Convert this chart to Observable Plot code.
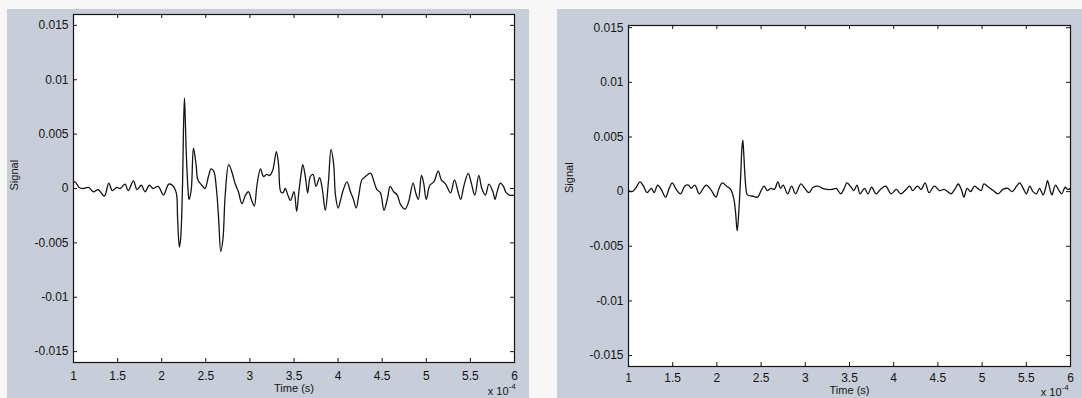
<!DOCTYPE html>
<html><head><meta charset="utf-8">
<script src="https://cdn.jsdelivr.net/npm/d3@7"></script>
<script src="https://cdn.jsdelivr.net/npm/@observablehq/plot@0.6"></script>
<style>
html,body{margin:0;padding:0;background:#f6f6f6;}
#wrap{position:relative;width:1082px;height:398px;overflow:hidden;background:#f6f6f6;}
#wrap svg{position:absolute;display:block;}
</style></head><body><div id="wrap"></div>
<script>
// ---- data (time in units of 1e-4 s) ----
const timeLeft = [1.00,1.02,1.064,1.11,1.17,1.226,1.28,1.35,1.40,1.44,1.49,1.53,1.585,1.62,1.68,1.72,1.77,1.81,1.86,1.90,1.96,2.02,2.08,2.12,2.165,2.18,2.20,2.215,2.236,2.247,2.258,2.268,2.278,2.30,2.31,2.335,2.36,2.39,2.41,2.455,2.49,2.53,2.56,2.59,2.62,2.645,2.67,2.695,2.72,2.76,2.80,2.83,2.87,2.91,2.95,2.985,3.02,3.05,3.08,3.12,3.155,3.19,3.225,3.26,3.30,3.325,3.35,3.375,3.40,3.43,3.46,3.50,3.53,3.555,3.58,3.60,3.63,3.655,3.685,3.715,3.75,3.79,3.82,3.855,3.89,3.92,3.95,3.97,4.00,4.03,4.06,4.10,4.14,4.17,4.205,4.235,4.27,4.31,4.37,4.40,4.44,4.48,4.52,4.56,4.59,4.63,4.67,4.71,4.76,4.80,4.85,4.88,4.91,4.945,4.97,5.00,5.04,5.085,5.135,5.17,5.22,5.275,5.32,5.36,5.39,5.425,5.475,5.51,5.55,5.595,5.63,5.67,5.71,5.755,5.78,5.80,5.84,5.875,5.90,5.94,6.00];
const signalLeft = [0.0006,0.0006,0.0001,0.0,0.0001,-0.0003,-0.0001,-0.0007,0.0005,-0.0002,0.0001,0.0,0.0004,-0.0002,0.0007,-0.0001,0.0003,-0.0003,0.0003,0.0,0.0002,-0.0006,0.0004,0.0003,-0.0004,-0.0027,-0.0054,-0.0046,0.0003,0.0055,0.0083,0.0062,0.0034,-0.0003,-0.0010,-0.0001,0.0037,0.0022,0.0008,0.0003,0.0,0.0011,0.0018,0.0016,0.0,-0.0027,-0.0058,-0.0046,-0.0006,0.0022,0.0014,0.0005,-0.0003,-0.0014,-0.0006,-0.0003,-0.0011,-0.0016,0.0003,0.0018,0.0011,0.0013,0.0012,0.0017,0.0034,0.0022,-0.0003,-0.0004,0.0,-0.0006,-0.0011,-0.0003,-0.0021,-0.0003,0.0013,0.0022,0.0010,-0.0004,0.0011,0.0013,0.0002,0.0010,0.0,-0.0020,0.0006,0.0036,0.0022,-0.0006,-0.0018,-0.0010,-0.0001,0.0006,-0.0003,-0.0009,-0.0018,-0.0006,0.0008,0.0011,0.0014,0.0008,-0.0001,-0.0004,-0.0020,-0.0009,0.0002,-0.0003,-0.0006,-0.0015,-0.0019,-0.0012,0.0005,-0.0004,-0.0010,0.0012,0.0005,-0.0010,0.0003,0.0006,0.0016,0.0008,0.0004,-0.0004,0.0008,-0.0003,-0.0010,0.0002,0.0014,0.0005,-0.0006,0.0012,0.0,-0.0006,0.0004,-0.0003,-0.0010,-0.0004,0.0005,0.0002,-0.0003,-0.0006,-0.0006];

const timeRight = [1.00,1.04,1.08,1.13,1.17,1.21,1.26,1.29,1.33,1.37,1.42,1.46,1.495,1.54,1.59,1.635,1.68,1.71,1.75,1.80,1.845,1.88,1.93,1.99,2.02,2.06,2.11,2.155,2.19,2.21,2.23,2.25,2.27,2.283,2.293,2.303,2.315,2.33,2.345,2.40,2.46,2.50,2.535,2.57,2.61,2.65,2.69,2.72,2.75,2.80,2.845,2.89,2.95,2.995,3.04,3.09,3.145,3.195,3.25,3.30,3.35,3.40,3.44,3.47,3.51,3.55,3.585,3.62,3.67,3.71,3.75,3.80,3.85,3.91,3.97,4.03,4.08,4.14,4.18,4.215,4.27,4.31,4.355,4.40,4.46,4.52,4.57,4.61,4.65,4.69,4.73,4.765,4.795,4.83,4.87,4.915,4.95,4.99,5.02,5.075,5.125,5.18,5.235,5.29,5.34,5.39,5.425,5.465,5.50,5.54,5.575,5.615,5.65,5.69,5.72,5.74,5.765,5.79,5.83,5.87,5.90,5.94,5.97,6.00];
const signalRight = [0.0001,0.0,0.0003,0.0009,0.0005,-0.0001,0.0003,-0.0001,0.0006,0.0002,-0.0005,0.0003,0.0008,0.0002,-0.0002,0.0005,0.0006,0.0003,0.0006,-0.0002,0.0003,0.0006,0.0002,-0.0005,0.0002,0.0008,0.0005,0.0002,-0.0006,-0.0018,-0.0036,-0.0015,0.0016,0.0040,0.0047,0.0036,0.0018,0.0002,-0.0003,-0.0004,-0.0005,0.0001,0.0005,0.0001,0.0003,0.0002,0.0009,0.0003,0.0006,-0.0002,0.0005,-0.0002,0.0007,0.0003,-0.0001,0.0004,0.0005,0.0003,0.0002,0.0002,0.0003,-0.0002,0.0003,0.0008,0.0005,0.0001,0.0006,-0.0002,0.0003,-0.0002,0.0004,-0.0002,0.0002,0.0005,-0.0002,0.0002,-0.0002,0.0002,0.0005,0.0001,0.0005,0.0002,0.0008,-0.0001,0.0005,0.0001,0.0002,0.0,-0.0002,0.0002,0.0007,0.0002,-0.0005,0.0003,0.0,0.0005,0.0003,0.0001,0.0007,0.0004,0.0001,-0.0002,0.0002,0.0003,0.0,0.0005,0.0008,0.0003,-0.0002,0.0005,0.0,-0.0002,0.0003,-0.0003,0.0004,0.0010,0.0003,-0.0003,0.0006,0.0001,-0.0002,0.0004,0.0002,0.0003];

const xTicks = [1,1.5,2,2.5,3,3.5,4,4.5,5,5.5,6];
const xTickLabels = ["1","1.5","2","2.5","3","3.5","4","4.5","5","5.5","6"];
const yTicks = [-0.015,-0.01,-0.005,0,0.005,0.01,0.015];
const yTickLabels = ["-0.015","-0.01","-0.005","0","0.005","0.01","0.015"];
const yLabel = "Signal";
const xLabel = "Time (s)";
const xMultiplier = "x 10";
const xExponent = "-4";

const FONT = "'Liberation Sans', Arial, Helvetica, sans-serif";

function panel(times, values, o) {
  const data = times.map((t, i) => ({t, v: values[i]}));
  const innerH = o.height - o.mt - o.mb;
  const innerW = o.width - o.ml - o.mr;
  const fx = d => xTickLabels[xTicks.indexOf(d)];
  const fy = d => yTickLabels[yTicks.indexOf(d)];
  const ink = "#141414";
  const svg = Plot.plot({
    width: o.width, height: o.height,
    marginLeft: o.ml, marginRight: o.mr, marginTop: o.mt, marginBottom: o.mb,
    style: {background: "#c7ced9", fontFamily: FONT, fontSize: "12px", color: ink, overflow: "visible"},
    x: {domain: [1, 6]},
    y: {domain: o.yDomain},
    marks: [
      Plot.frame({fill: "white", stroke: "none"}),
      Plot.line(data, {x: "t", y: "v", stroke: ink, strokeWidth: 1.3, curve: "catmull-rom"}),
      Plot.tickX(xTicks, {x: d => d, insetTop: innerH - 4, stroke: ink}),
      Plot.tickX(xTicks, {x: d => d, insetBottom: innerH - 4, stroke: ink}),
      Plot.tickY(yTicks, {y: d => d, insetRight: innerW - 4, stroke: ink}),
      Plot.tickY(yTicks, {y: d => d, insetLeft: innerW - 4, stroke: ink}),
      Plot.axisX(xTicks, {tickSize: 0, tickPadding: o.xPad, tickFormat: fx, label: null, fill: ink}),
      Plot.axisY(yTicks, {tickSize: 0, tickPadding: 5, tickFormat: fy, label: null, fill: ink}),
      Plot.frame({stroke: ink, strokeWidth: 1.2}),
      Plot.text([yLabel], {frameAnchor: "left", rotate: -90, dx: -59, dy: o.ylDy, fontSize: 11, fill: ink}),
      Plot.text([xLabel], {frameAnchor: "bottom", lineAnchor: "middle", dy: o.xlDy, fontSize: 11, fill: ink}),
      Plot.text([xMultiplier], {frameAnchor: "bottom-right", textAnchor: "end", lineAnchor: "middle", dx: o.mulDx, dy: o.mulDy, fontSize: 11, fill: ink}),
      Plot.text([xExponent], {frameAnchor: "bottom-right", textAnchor: "start", lineAnchor: "middle", dx: o.mulDx, dy: o.mulDy - 5, fontSize: 8, fill: ink})
    ]
  });
  svg.style.left = o.left + "px";
  svg.style.top = o.top + "px";
  return svg;
}

const wrap = document.getElementById("wrap");
wrap.appendChild(panel(timeLeft, signalLeft, {
  left: 7, top: 9, width: 522, height: 389,
  ml: 66, mr: 15, mt: 5, mb: 36,
  yDomain: [-0.016, 0.016], xPad: 9,
  ylDy: 2, xlDy: 26, mulDx: -6, mulDy: 29
}));
wrap.appendChild(panel(timeRight, signalRight, {
  left: 557, top: 9, width: 525, height: 389,
  ml: 71, mr: 12, mt: 16, mb: 32,
  yDomain: [-0.016, 0.0152], xPad: 7,
  ylDy: -3, xlDy: 24, mulDx: -9, mulDy: 26
}));
</script></body></html>
